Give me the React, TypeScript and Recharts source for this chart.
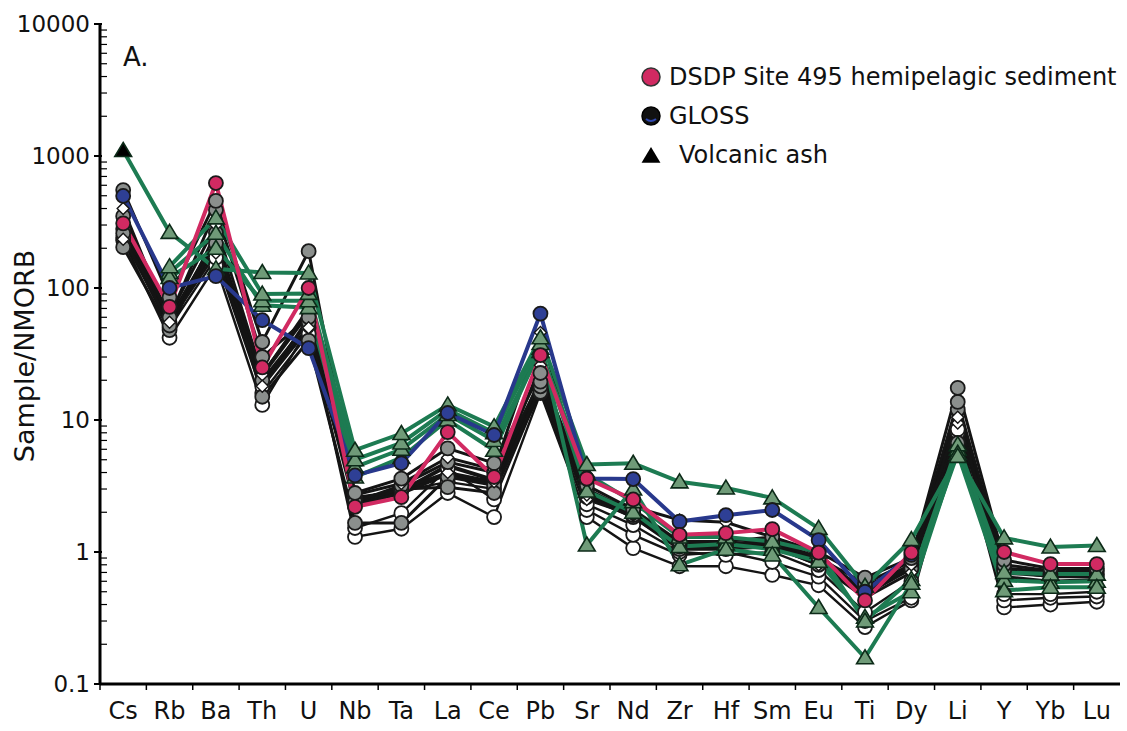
import { LineChart, Line, XAxis, YAxis, Legend } from 'recharts'

const ELEMENTS = ['Cs', 'Rb', 'Ba', 'Th', 'U', 'Nb', 'Ta', 'La', 'Ce', 'Pb', 'Sr', 'Nd', 'Zr', 'Hf', 'Sm', 'Eu', 'Ti', 'Dy', 'Li', 'Y', 'Yb', 'Lu']

// sample / NMORB (null = not plotted)
const DSDP = [309, 72, 624, 25, 100, 2.2, 2.6, 8.1, 3.7, 31, 3.6, 2.5, 1.35, 1.39, 1.49, 0.99, 0.43, 0.99, null, 1.0, 0.81, 0.81]
const GLOSS = [498, 100, 123, 57, 35, 3.8, 4.7, 11.3, 7.7, 64, 3.6, 3.57, 1.7, 1.9, 2.08, 1.23, 0.5, 0.95, null, null, null, null]
const ASH1 = [1100, 264, 140, 131, 130, 5.9, 7.9, 13, 8.9, 42, 4.6, 4.7, 3.4, 3.05, 2.57, 1.51, 0.55, 1.24, 5.3, 1.28, 1.09, 1.12]
const ASH2 = [null, 145, 340, 90, 91, 5.0, 6.7, 12, 8.0, 38, 1.13, 3.0, 0.8, 1.05, 0.95, 0.38, 0.158, 0.58, 5.6, 0.51, 0.54, 0.54]
const ASH3 = [null, 131, 260, 74, 71, 3.7, 5.2, 10, 5.9, 35, 2.9, 2.0, 1.1, 1.15, 1.05, 0.85, 0.32, 0.5, 6.0, 0.61, 0.59, 0.6]
const ASH4 = [null, 120, 200, 80, 80, 4.4, 6.0, 11, 7.0, 33, 3.9, 2.4, 1.3, 1.3, 1.2, 1.0, 0.3, 0.62, 6.5, 0.7, 0.68, 0.68]
const GREY1 = [552, 85, 457, 39, 190, 2.8, 3.6, 6.1, 4.7, 22.7, 3.2, 2.1, 1.2, 1.2, 1.3, 1.0, 0.64, 0.9, 17.5, 0.87, 0.75, 0.75]
const GREY2 = [350, 60, 390, 30, 60, 2.4, 3.2, 4.8, 4.0, 19.5, 3.0, 2.0, 1.15, 1.1, 1.2, 0.9, 0.58, 0.85, 13.7, 0.8, 0.72, 0.72]
const GREY3 = [204, 48, 262, 15, 40, 1.66, 1.66, 3.7, 3.2, 16.3, 2.6, 1.84, 1.05, 1.05, 1.1, 0.8, 0.55, 0.8, 6.7, 0.75, 0.68, 0.68]
const GREY4 = [260, 52, 218, 20, 55, 2.5, 3.0, 3.1, 2.8, 18, 2.8, 1.9, 1.1, 1.1, 1.15, 0.85, 0.52, 0.75, 12, 0.72, 0.65, 0.65]
const WHITE1 = [230, 42, 148, 13, 50, 1.3, 1.5, 2.8, 1.84, 16, 1.84, 1.07, 0.78, 0.78, 0.67, 0.56, 0.27, 0.43, 8, 0.38, 0.4, 0.42]
const WHITE2 = [240, 50, 170, 16, 45, 1.52, 1.97, 4.3, 2.5, 17, 2.08, 1.35, 0.95, 1.0, 0.84, 0.65, 0.3, 0.45, 9, 0.43, 0.45, 0.46]
const WHITE3 = [280, 55, 200, 18, 60, 2.6, 2.9, 3.4, 3.0, 18.5, 2.3, 1.6, 1.0, 0.95, 1.0, 0.73, 0.35, 0.6, 8.5, 0.48, 0.48, 0.5]
const DIAM1 = [400, 55, 184, 18, 50, 2.7, 3.3, 5.2, 4.2, 46, 2.7, 2.2, 1.75, 1.68, 1.3, 0.95, 0.5, 0.8, 10.5, 0.68, 0.7, 0.7]
const DIAM2 = [234, 62, 300, 22, 70, 2.4, 3.0, 4.0, 3.4, 26, 2.5, 1.9, 1.1, 1.1, 1.1, 0.8, 0.45, 0.7, 9.5, 0.65, 0.6, 0.62]
const BLACK1 = [300, 58, 230, 22, 65, 2.5, 2.9, 4.5, 3.5, 20, 2.9, 2.0, 1.15, 1.15, 1.2, 0.9, 0.5, 0.8, 11, 0.75, 0.7, 0.7]
const BLACK2 = [270, 55, 240, 19, 50, 2.3, 2.8, 3.9, 3.3, 19, 2.7, 1.85, 1.1, 1.1, 1.1, 0.85, 0.48, 0.75, 9.8, 0.7, 0.66, 0.66]

const Y_MAJOR = [0.1, 1, 10, 100, 1000, 10000]
const Y_LABELS = ['0.1', '1', '10', '100', '1000', '10000']
const Y_MINOR = [
  0.2, 0.3, 0.4, 0.5, 0.6, 0.7, 0.8, 0.9,
  2, 3, 4, 5, 6, 7, 8, 9,
  20, 30, 40, 50, 60, 70, 80, 90,
  200, 300, 400, 500, 600, 700, 800, 900,
  2000, 3000, 4000, 5000, 6000, 7000, 8000, 9000,
]

const LEGEND_ITEMS = ['DSDP Site 495 hemipelagic sediment', 'GLOSS', 'Volcanic ash']

const W = 1127
const H = 731
const PLOT_LEFT = 100
const PLOT_RIGHT = 1120
const PLOT_BOTTOM = 684
const BAND = (PLOT_RIGHT - PLOT_LEFT) / ELEMENTS.length
const FONT = 'DejaVu Sans, sans-serif'

const PINK = '#d12a62'
const BLUE = '#28388c'
const GREEN = '#1d7b52'
const INK = '#141414'

type Marker = 'pink' | 'blue' | 'tri' | 'grey' | 'white' | 'diamond' | 'black'

const SERIES: { key: string; values: (number | null)[]; color: string; width: number; marker: Marker }[] = [
  { key: 'white1', values: WHITE1, color: INK, width: 2.4, marker: 'white' },
  { key: 'white2', values: WHITE2, color: INK, width: 2.4, marker: 'white' },
  { key: 'white3', values: WHITE3, color: INK, width: 2.4, marker: 'white' },
  { key: 'black1', values: BLACK1, color: INK, width: 4, marker: 'black' },
  { key: 'black2', values: BLACK2, color: INK, width: 4, marker: 'black' },
  { key: 'grey3', values: GREY3, color: INK, width: 3, marker: 'grey' },
  { key: 'grey4', values: GREY4, color: INK, width: 3, marker: 'grey' },
  { key: 'diam2', values: DIAM2, color: INK, width: 3, marker: 'diamond' },
  { key: 'grey2', values: GREY2, color: INK, width: 3, marker: 'grey' },
  { key: 'diam1', values: DIAM1, color: INK, width: 3, marker: 'diamond' },
  { key: 'grey1', values: GREY1, color: INK, width: 3, marker: 'grey' },
  { key: 'ash3', values: ASH3, color: GREEN, width: 4, marker: 'tri' },
  { key: 'ash4', values: ASH4, color: GREEN, width: 4, marker: 'tri' },
  { key: 'ash2', values: ASH2, color: GREEN, width: 4, marker: 'tri' },
  { key: 'ash1', values: ASH1, color: GREEN, width: 4, marker: 'tri' },
  { key: 'gloss', values: GLOSS, color: BLUE, width: 4, marker: 'blue' },
  { key: 'dsdp', values: DSDP, color: PINK, width: 4, marker: 'pink' },
]

const data = ELEMENTS.map((el, i) => {
  const row: Record<string, string | number | null> = { el }
  SERIES.forEach((s) => {
    row[s.key] = s.values[i]
  })
  return row
})

const triPath = (cx: number, cy: number, s: number) =>
  `M${cx},${cy - s} L${cx + s * 1.05},${cy + s * 0.75} L${cx - s * 1.05},${cy + s * 0.75} Z`

const makeDot = (marker: Marker, seriesKey: string) => (props: any) => {
  const { cx, cy, index } = props
  const key = `${seriesKey}-${index}`
  if (cx == null || cy == null || Number.isNaN(cy)) return <g key={key} />
  if (marker === 'tri') {
    // first ash sample's Cs point is drawn as a solid black triangle
    const solid = seriesKey === 'ash1' && index === 0
    return (
      <path key={key} d={triPath(cx, cy, 8)} fill={solid ? '#000' : '#6f9b78'} stroke="#0c2a18" strokeWidth={1.6} />
    )
  }
  if (marker === 'diamond') {
    return (
      <path key={key} d={`M${cx},${cy - 6} L${cx + 6},${cy} L${cx},${cy + 6} L${cx - 6},${cy} Z`} fill="#fff" stroke={INK} strokeWidth={1.4} />
    )
  }
  const fill =
    marker === 'pink' ? PINK : marker === 'blue' ? '#2e3f95' : marker === 'grey' ? '#8b8f8d' : marker === 'black' ? '#1c1c1c' : '#fff'
  const r = marker === 'black' ? 5 : 7
  return <circle key={key} cx={cx} cy={cy} r={r} fill={fill} stroke="#1a1a1a" strokeWidth={1.8} />
}

const YTick = (props: any) => {
  const { x, y, payload } = props
  const idx = Y_MAJOR.indexOf(payload.value)
  if (idx >= 0) {
    return (
      <g>
        <line x1={x - 6} x2={x + 2} y1={y} y2={y} stroke="#000" strokeWidth={2} />
        <text x={x - 10} y={y} textAnchor="end" dominantBaseline="central" fontSize={23} fontFamily={FONT} fill="#111">
          {Y_LABELS[idx]}
        </text>
      </g>
    )
  }
  return <line x1={x} x2={x + 7} y1={y} y2={y} stroke="#000" strokeWidth={1.2} />
}

const XTick = (props: any) => {
  const { x, payload } = props
  const bx = x - BAND / 2
  return (
    <g>
      <line x1={bx} x2={bx} y1={PLOT_BOTTOM} y2={PLOT_BOTTOM + 6} stroke="#000" strokeWidth={1.5} />
      <text x={x} y={PLOT_BOTTOM + 27} textAnchor="middle" dominantBaseline="central" fontSize={24} fontFamily={FONT} fill="#111">
        {payload.value}
      </text>
    </g>
  )
}

const LegendBox = () => (
  <svg width={490} height={120} style={{ display: 'block' }}>
    <circle cx={21} cy={22} r={9} fill={PINK} stroke="#333" strokeWidth={1.5} />
    <circle cx={21} cy={61} r={9} fill="#111" stroke="#000" strokeWidth={1.5} />
    <path d="M16,64 Q21,68 26,64" stroke="#3048b0" strokeWidth={2} fill="none" />
    <path d={triPath(21, 101, 9)} fill="#000" />
    {LEGEND_ITEMS.map((t, i) => (
      <text key={t} x={i === 2 ? 49 : 39} y={22 + i * 39} dominantBaseline="central" fontSize={24} fontFamily={FONT} fill="#111">
        {t}
      </text>
    ))}
  </svg>
)

export default function App() {
  return (
    <div style={{ position: 'absolute', left: 0, top: 0, width: W, height: H, background: '#fff', fontFamily: FONT }}>
      <LineChart width={W} height={H} data={data} margin={{ top: 24, right: W - PLOT_RIGHT, bottom: 0, left: 0 }}>
        <XAxis
          dataKey="el"
          interval={0}
          padding={{ left: BAND / 2, right: BAND / 2 }}
          height={H - PLOT_BOTTOM}
          tickSize={0}
          tickMargin={0}
          tickLine={false}
          axisLine={{ stroke: '#000', strokeWidth: 3 }}
          tick={XTick}
        />
        <XAxis xAxisId="top" orientation="top" dataKey="el" height={0} tick={false} tickLine={false} axisLine={{ stroke: '#000', strokeWidth: 2.5 }} />
        <YAxis
          type="number"
          scale="log"
          domain={[0.1, 10000]}
          ticks={[...Y_MAJOR, ...Y_MINOR]}
          interval={0}
          width={PLOT_LEFT}
          tickSize={0}
          tickMargin={0}
          tickLine={false}
          axisLine={{ stroke: '#000', strokeWidth: 3 }}
          tick={YTick}
          label={() => (
            <text x={24} y={356} transform="rotate(-90 24 356)" textAnchor="middle" dominantBaseline="central" fontSize={27} fontFamily={FONT} fill="#111">
              Sample/NMORB
            </text>
          )}
        />
        <YAxis yAxisId="right" orientation="right" width={0} tick={false} tickLine={false} axisLine={{ stroke: '#000', strokeWidth: 2.5 }} />
        <Legend
          layout="horizontal"
          verticalAlign="middle"
          align="center"
          content={LegendBox}
          wrapperStyle={{ position: 'absolute', left: 630, top: 55, width: 490, height: 120 }}
        />
        {SERIES.map((s) => (
          <Line
            key={s.key}
            dataKey={s.key}
            type="linear"
            stroke={s.color}
            strokeWidth={s.width}
            dot={makeDot(s.marker, s.key)}
            activeDot={false}
            connectNulls={false}
            isAnimationActive={false}
            legendType="none"
          />
        ))}
      </LineChart>
      <div style={{ position: 'absolute', left: 123, top: 40, fontSize: 26, fontFamily: FONT, color: '#111', lineHeight: '34px' }}>
        A.
      </div>
    </div>
  )
}
